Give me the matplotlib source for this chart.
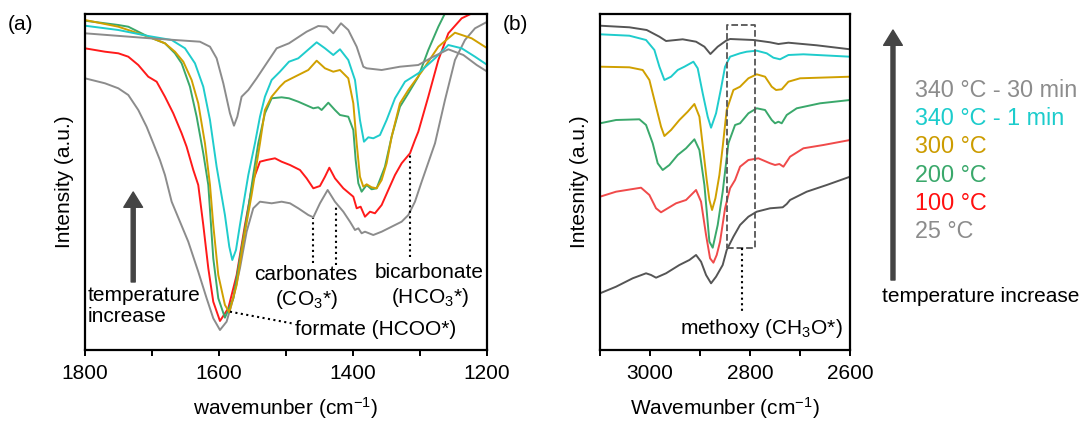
import matplotlib
matplotlib.use('Agg')
import matplotlib.pyplot as plt

plt.rcParams['font.family'] = ['Liberation Sans', 'DejaVu Sans']
plt.rcParams['mathtext.default'] = 'regular'

# ---- panel (a): wavenumber (cm-1) and intensity (a.u.)
a_25_x = [1800, 1770.1, 1750.2, 1735.3, 1720.4, 1708.0, 1698.0, 1688.1, 1680.6, 1670.6, 1658.2, 1645.8,
          1630.9, 1618.4, 1608.5, 1598.5, 1588.6, 1578.6, 1568.7, 1558.7, 1548.8, 1538.8, 1521.4, 1506.5,
          1494.0, 1481.6, 1466.7, 1459.2, 1449.3, 1437.8, 1426.9, 1414.4, 1404.5, 1397.0, 1392.0, 1387.1,
          1382.1, 1369.7, 1357.2, 1342.3, 1327.4, 1317.4, 1307.5, 1297.5, 1277.6, 1262.7, 1247.8, 1232.9,
          1217.9, 1199.5]
a_25_y = [271.7, 266.7, 261.7, 255, 240, 223.3, 206.7, 190, 175, 148.3, 128.3, 108.3,
          78.3, 51.7, 31.7, 20, 28.3, 51.7, 81.7, 118.3, 141.7, 148.3, 146.7, 148.3,
          146.7, 141.7, 135, 132.7, 146.7, 160, 148.3, 138.3, 128.3, 120, 121.7, 116.7,
          118.3, 115, 118.3, 123.3, 128.3, 135, 148.3, 168.3, 206.7, 250, 290, 310,
          321.7, 328.3]

a_100_x = [1800, 1770.1, 1750.2, 1735.3, 1720.4, 1705.5, 1693.0, 1680.6, 1668.2, 1655.7, 1648.3, 1638.3,
           1630.9, 1623.4, 1615.9, 1608.5, 1598.5, 1586.1, 1573.6, 1561.2, 1548.8, 1538.8, 1528.9, 1516.4,
           1506.5, 1494.0, 1479.1, 1469.2, 1459.2, 1449.3, 1441.8, 1435.3, 1426.9, 1414.4, 1399.5, 1394.5,
           1388.6, 1382.1, 1374.6, 1367.2, 1357.2, 1347.3, 1337.3, 1327.4, 1314.9, 1307.5, 1302.5, 1287.6,
           1272.6, 1257.7, 1237.8, 1220.4, 1199.5]
a_100_y = [301.7, 298.3, 296.7, 293.3, 285, 273.3, 268.3, 253.3, 236.7, 216.7, 203.3, 180,
           165, 125, 81.7, 48.3, 29, 41.7, 75, 125, 170, 188.3, 190, 191.7,
           188.3, 185, 180, 171.7, 161.7, 164, 173.3, 182.3, 171.7, 161.7, 153.3, 141.7,
           143.3, 133.3, 138.3, 136.7, 145, 160, 175, 186.7, 196.7, 210, 218.3, 253.3,
           290, 316.7, 331.7, 337.3, 343.3]

a_200_x = [1800, 1750.2, 1735.3, 1705.5, 1680.6, 1665.7, 1655.7, 1643.3, 1633.3, 1623.4, 1615.9, 1608.5,
           1601.0, 1591.1, 1578.6, 1568.7, 1556.2, 1548.8, 1541.3, 1531.4, 1521.4, 1506.5, 1495.5, 1481.6,
           1459.2, 1451.8, 1446.8, 1436.8, 1426.9, 1419.4, 1407.0, 1399.5, 1396.0, 1392.0, 1387.1, 1379.6,
           1372.2, 1364.7, 1352.3, 1342.3, 1329.9, 1317.4, 1302.5, 1287.6, 1272.6, 1260.2, 1250.3]
a_200_y = [329.3, 325, 323.3, 313.3, 306.7, 296.7, 286.7, 263.3, 233.3, 196.7, 165, 91.7,
           51.7, 32.3, 51.7, 91.7, 141.7, 175, 206.7, 236.7, 251.7, 252.7, 251.7, 248.3,
           241.7, 242.7, 240, 247.3, 240, 235, 233.3, 220, 190, 166.7, 158.3, 165,
           160.7, 161.7, 183.3, 213.3, 243.3, 256.7, 273.3, 300, 323.3, 340, 350]

a_300_x = [1800, 1750.2, 1705.5, 1680.6, 1665.7, 1653.2, 1640.8, 1630.9, 1620.9, 1613.4, 1608.5, 1601.0,
           1591.1, 1584.6, 1573.6, 1563.7, 1551.3, 1538.8, 1531.4, 1521.4, 1509.0, 1501.5, 1481.6, 1466.7,
           1454.2, 1441.8, 1429.4, 1419.4, 1407.0, 1399.5, 1394.5, 1389.6, 1384.6, 1379.6, 1372.2, 1364.7,
           1357.2, 1349.8, 1342.3, 1329.9, 1317.4, 1297.5, 1272.6, 1247.8, 1222.9, 1199.5]
a_300_y = [330, 323.3, 313.3, 306.7, 298.3, 288.3, 270, 246.7, 206.7, 165, 125, 75,
           45, 37.7, 65, 108.3, 155, 206.7, 240, 253.3, 263.3, 268.3, 275, 280,
           289.3, 281.7, 278.3, 280, 271.7, 246.7, 206.7, 173.3, 163.3, 165.7, 162.7, 161.7,
           170, 186.7, 213.3, 246.7, 260, 278.3, 303.3, 317.3, 311.7, 301.7]

a_340_1_x = [1800, 1750.2, 1705.5, 1670.6, 1650.7, 1635.8, 1623.4, 1613.4, 1603.5, 1591.1, 1584.6, 1580.1,
             1574.6, 1568.7, 1556.2, 1546.3, 1538.8, 1531.4, 1521.4, 1509.0, 1495.5, 1481.6, 1454.2, 1441.8,
             1429.4, 1419.4, 1407.0, 1397.0, 1389.6, 1383.6, 1377.1, 1369.7, 1359.7, 1349.8, 1337.3, 1322.4,
             1302.5, 1277.6, 1257.7, 1237.8, 1217.9, 1199.5]
a_340_1_y = [324.3, 320, 314, 310, 301.7, 286.7, 263.3, 230, 183.3, 135, 103.3, 90,
             100, 125, 175, 206.7, 233.3, 253.3, 270, 278.3, 288.3, 291.7, 307.7, 301.7,
             295, 300.7, 290, 270, 230, 208.3, 212.7, 211.7, 215, 230, 251.7, 268.3,
             276.7, 291.7, 305, 301.7, 293.3, 285]

a_340_30_x = [1800, 1703.0, 1628.4, 1613.4, 1603.5, 1593.5, 1583.6, 1577.6, 1572.6, 1566.2, 1556.2, 1543.8,
              1528.9, 1513.9, 1495.5, 1469.2, 1451.8, 1439.3, 1429.4, 1417.9, 1407.0, 1394.5, 1384.6, 1379.6,
              1357.2, 1329.9, 1302.5, 1280.1, 1257.7, 1235.3, 1215.4, 1199.5]
a_340_30_y = [316.7, 311.7, 308.3, 303.3, 291.7, 266.7, 236.7, 224.3, 233.3, 253.3, 260, 271.7,
              286.7, 301.7, 306.7, 318.3, 324, 323.3, 316.7, 326.7, 320, 303.3, 283.3, 281.7,
              280, 283.3, 285, 293.3, 300.7, 295, 285, 278.3]

# ---- panel (b)
b_25_x = [3100, 3068.0, 3034.7, 3008.0, 2998.0, 2988.0, 2968.0, 2941.3, 2921.3, 2908.0, 2898.0, 2888.0,
          2878.0, 2868.0, 2854.7, 2846.7, 2833.3, 2820.0, 2803.3, 2786.7, 2760.0, 2734.7, 2726.7, 2720.0,
          2686.7, 2646.7, 2600]
b_25_y = [56.7, 63.3, 71.7, 76.7, 75, 72.3, 76.7, 85, 90, 95, 88.3, 75,
          66.7, 73.3, 85, 100, 113.3, 125, 133.3, 138.3, 141.7, 142.7, 146, 150,
          158.3, 165, 173.3]

b_100_x = [3100, 3068.0, 3018.0, 3001.3, 2988.0, 2978.0, 2964.7, 2948.0, 2928.0, 2908.0, 2898.0, 2888.0,
           2880.0, 2873.3, 2866.7, 2860.0, 2850.0, 2840.0, 2830.0, 2820.0, 2803.3, 2783.3, 2760.0, 2750.0,
           2741.3, 2733.3, 2720.0, 2693.3, 2653.3, 2600]
b_100_y = [153.3, 158.3, 162.3, 155, 141.7, 137.7, 141.7, 146.7, 150, 160, 148.3, 115,
           91.7, 87.3, 95, 108.3, 141.7, 161.7, 170, 183.3, 190, 191.7, 186.7, 185,
           186, 183.3, 193.3, 201.7, 205, 210]

b_200_x = [3100, 3068.0, 3021.3, 3008.0, 2994.7, 2984.7, 2974.7, 2961.3, 2944.7, 2928.0, 2911.3, 2901.3,
           2891.3, 2881.3, 2874.7, 2864.7, 2854.7, 2843.3, 2830.0, 2820.0, 2803.3, 2786.7, 2770.0, 2756.7,
           2750.0, 2743.3, 2736.7, 2726.7, 2706.7, 2660.0, 2600]
b_200_y = [226.7, 230, 230.7, 225, 206.7, 186.7, 180, 185, 195, 201.7, 210.7, 200,
           165, 108.3, 102.3, 125, 158.3, 206.7, 225, 226.7, 236.7, 241.7, 240, 230,
           226.7, 228.3, 226.7, 235, 241.7, 246.7, 250]

b_300_x = [3100, 3041.3, 3014.7, 3001.3, 2988.0, 2978.0, 2971.3, 2958.0, 2941.3, 2924.7, 2911.3, 2901.3,
           2891.3, 2886.7, 2881.3, 2876.0, 2869.3, 2861.3, 2854.7, 2846.7, 2833.3, 2820.0, 2803.3, 2786.7,
           2770.0, 2756.7, 2748.0, 2736.7, 2723.3, 2700.0, 2600]
b_300_y = [283.3, 282.7, 280, 270, 243.3, 223.3, 214, 220, 230, 238.3, 246, 233.3,
           190, 170, 150, 140, 151.7, 175, 203.3, 240, 260, 263.3, 271.7, 275.7,
           273.3, 263.3, 260, 260.7, 268.3, 271.7, 273.3]

b_340_1_x = [3100, 3041.3, 3008.0, 2991.3, 2981.3, 2971.3, 2958.0, 2944.7, 2931.3, 2913.3, 2904.7, 2894.7,
             2884.7, 2878.0, 2868.0, 2858.0, 2850.0, 2840.0, 2820.0, 2806.7, 2786.7, 2766.7, 2753.3, 2740.0,
             2723.3, 2693.3, 2600]
b_340_1_y = [315.7, 314.3, 310, 300, 283.3, 270, 273.3, 280, 283.3, 288.3, 281.7, 256.7,
             233.3, 222.3, 236.7, 261.7, 283.3, 293.3, 296.7, 298.3, 299.3, 296.7, 292.3, 290.7,
             295, 295.7, 293.3]

b_340_30_x = [3100, 3041.3, 3006.7, 2981.3, 2968.0, 2934.7, 2908.0, 2891.3, 2879.3, 2864.7, 2848.0, 2840.0,
              2793.3, 2760.0, 2743.3, 2723.3, 2666.7, 2600]
b_340_30_y = [324.3, 322.7, 320, 313.3, 309, 310.7, 308.3, 303.3, 296, 303.3, 309.3, 311,
              310, 307.7, 306, 307.3, 304.7, 300.7]

labels = ['340 °C - 30 min', '340 °C - 1 min', '300 °C', '200 °C', '100 °C', '25 °C']
label_colors = ['#8c8c8c', '#1ccccc', '#cc9c00', '#3aa86b', '#ff1010', '#8c8c8c']

c_gray = '#8c8c8c'
c_dark = '#555555'
c_cyan = '#1fcccc'
c_gold = '#d0a000'
c_green = '#3aa86b'
c_red = '#ff1a1a'
c_red_b = '#f04a4a'

fig = plt.figure(figsize=(10.89, 4.23), dpi=100)
ax_a = fig.add_axes([0.078, 0.1726, 0.3692, 0.7943])
ax_b = fig.add_axes([0.551, 0.1726, 0.2296, 0.7943])

lw = 1.4
ax_a.plot(a_25_x, a_25_y, color=c_gray, lw=lw)
ax_a.plot(a_100_x, a_100_y, color=c_red, lw=lw)
ax_a.plot(a_200_x, a_200_y, color=c_green, lw=lw)
ax_a.plot(a_300_x, a_300_y, color=c_gold, lw=lw)
ax_a.plot(a_340_1_x, a_340_1_y, color=c_cyan, lw=lw)
ax_a.plot(a_340_30_x, a_340_30_y, color=c_gray, lw=lw)

ax_b.plot(b_25_x, b_25_y, color=c_dark, lw=lw)
ax_b.plot(b_100_x, b_100_y, color=c_red_b, lw=lw)
ax_b.plot(b_200_x, b_200_y, color=c_green, lw=lw)
ax_b.plot(b_300_x, b_300_y, color=c_gold, lw=lw)
ax_b.plot(b_340_1_x, b_340_1_y, color=c_cyan, lw=lw)
ax_b.plot(b_340_30_x, b_340_30_y, color=c_dark, lw=lw)

fs = 15
for ax, xl, xr, xlab, ylab in [(ax_a, 1800, 1200, 'wavemunber (cm$^{-1}$)', 'Intensity (a.u.)'),
                               (ax_b, 3100, 2600, 'Wavemunber (cm$^{-1}$)', 'Intesnity (a.u.)')]:
    ax.set_xlim(xl, xr)
    ax.set_ylim(0, 336)
    ax.set_yticks([])
    ax.set_xticks(range(xr, xl + 1, 200))
    ax.set_xticks(range(xr, xl + 1, 100), minor=True)
    ax.tick_params(axis='x', which='both', direction='out', length=4, width=1.4, labelsize=fs, pad=6)
    ax.set_xlabel(xlab, fontsize=fs, labelpad=9)
    ax.set_ylabel(ylab, fontsize=fs, labelpad=8)
    for s in ax.spines.values():
        s.set_linewidth(1.6)

# annotations panel (a)
dot = dict(color='black', ls=':', lw=1.5)
ax_a.plot([1460, 1460], [87, 132], **dot)
ax_a.plot([1425, 1425], [85, 143], **dot)
ax_a.plot([1315, 1315], [93, 195], **dot)
ax_a.plot([1583.6, 1491.6], [38.3, 26.7], **dot)
ax_a.text(1470, 75, 'carbonates', fontsize=fs, ha='center', va='center')
ax_a.text(1470, 50, '(CO$_3$*)', fontsize=fs, ha='center', va='center')
ax_a.text(1286, 77, 'bicarbonate', fontsize=fs, ha='center', va='center')
ax_a.text(1285, 52, '(HCO$_3$*)', fontsize=fs, ha='center', va='center')
ax_a.text(1486, 20, 'formate (HCOO*)', fontsize=fs, ha='left', va='center')
ax_a.text(1795.5, 44, 'temperature\nincrease', fontsize=fs, ha='left', va='center', linespacing=1.1)
ax_a.annotate('', xy=(1728, 158), xytext=(1728, 68),
              arrowprops=dict(width=2.9, headwidth=13.5, headlength=11, color='#444444'))

# annotations panel (b)
ax_b.plot([2847, 2790, 2790, 2847, 2847], [102, 102, 325, 325, 102], color='#555555', ls='--', lw=1.3)
ax_b.plot([2816.7, 2816.7], [101.7, 36.7], **dot)
ax_b.text(2777, 21.7, 'methoxy (CH$_3$O*)', fontsize=fs, ha='center', va='center')

fig.text(0.007, 0.941, '(a)', fontsize=fs, va='center')
fig.text(0.462, 0.941, '(b)', fontsize=fs, va='center')

# legend as coloured text next to the arrow
rows_y = [0.787, 0.720, 0.653, 0.586, 0.520, 0.452]
for lab, col, yy in zip(labels, label_colors, rows_y):
    fig.text(0.840, yy, lab, color=col, fontsize=16.8, va='center', ha='left')
ax_b.annotate('', xy=(0.820, 0.929), xycoords='figure fraction', xytext=(0.820, 0.338),
              textcoords='figure fraction', annotation_clip=False,
              arrowprops=dict(width=2.9, headwidth=13.5, headlength=11, color='#444444'))
fig.text(0.810, 0.298, 'temperature increase', fontsize=fs, va='center', ha='left')

fig.savefig('out.png', dpi=100)
